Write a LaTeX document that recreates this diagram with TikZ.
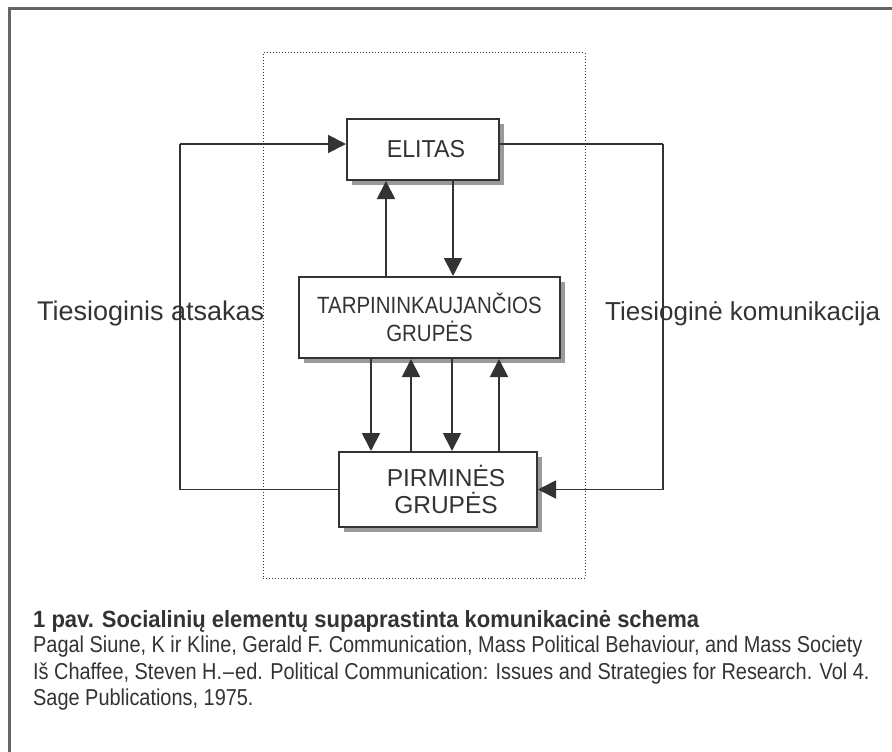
\documentclass[tikz,border=0pt]{standalone}
\usepackage{fontspec}
\setmainfont{Liberation Sans}
\newfontfamily\elfont[FakeStretch=0.95]{Liberation Sans}
\newfontfamily\boxfont[FakeStretch=0.87]{Liberation Sans}
\newfontfamily\bodyfont[FakeStretch=0.866]{Liberation Sans}
\newfontfamily\capfont[FakeStretch=0.935]{Liberation Sans}
\usetikzlibrary{arrows.meta}
\definecolor{ink}{HTML}{333333}
\definecolor{frameg}{HTML}{666666}
\definecolor{shadowg}{HTML}{9A9A9A}
\tikzset{
  blk/.style={draw=ink, line width=2pt, fill=white, align=center, text=ink,
    font=\boxfont\fontsize{23.5}{27.5}\selectfont, inner sep=0pt},
  conn/.style={draw=ink, line width=1.8pt},
  arr/.style={conn, -{Triangle[length=18pt,width=18pt]}},
  lbl/.style={text=ink, anchor=base west, inner sep=0pt},
  bodytxt/.style={text=ink, font=\bodyfont\fontsize{23}{26}\selectfont, anchor=base west, inner sep=0pt},
  captxt/.style={text=ink, font=\capfont\bfseries\fontsize{23.5}{26}\selectfont, anchor=base west, inner sep=0pt},
}
\begin{document}
\begin{tikzpicture}[x=1pt,y=-1pt]
\useasboundingbox (0,0) rectangle (892,752);
% outer frame
\draw[frameg, line width=3pt] (9,800) -- (9,9) -- (950,9);
% dotted frame
\node[draw=ink, dotted, line width=1pt, minimum width=322pt, minimum height=525pt, inner sep=0pt] (dots) at (424,315.5) {};
% shadows
\fill[shadowg] (352,124) rectangle (504,185);
\fill[shadowg] (304,282) rectangle (565,363);
\fill[shadowg] (344,457) rectangle (542,532);
% boxes
\node[blk, font=\elfont\fontsize{24.5}{28}\selectfont, minimum width=152pt, minimum height=61pt] (elitas) at (423,149.5) {\hspace*{6pt}ELITAS};
\node[blk, minimum width=261pt, minimum height=81pt] (tarp) at (429.5,317.5) {TARPININKAUJANČIOS\\GRUPĖS};
\node[blk, font=\fontsize{24.5}{27.5}\selectfont, minimum width=198pt, minimum height=75pt] (pirm) at (438,489.5) {\hspace*{16pt}PIRMINĖS\\\hspace*{16pt}GRUPĖS};
% column coordinates
\coordinate (c1) at (386,0);
\coordinate (c2) at (453,0);
\coordinate (d1) at (371,0);
\coordinate (d2) at (411,0);
\coordinate (d3) at (452,0);
\coordinate (d4) at (499,0);
\coordinate (lx) at (180,144);
\coordinate (rx) at (663,144);
% elitas <-> tarp
\draw[arr] (tarp.north -| c1) -- (elitas.south -| c1);
\draw[arr] (elitas.south -| c2) -- (tarp.north -| c2);
% tarp <-> pirm
\draw[arr] (tarp.south -| d1) -- (pirm.north -| d1);
\draw[arr] (pirm.north -| d2) -- (tarp.south -| d2);
\draw[arr] (tarp.south -| d3) -- (pirm.north -| d3);
\draw[arr] (pirm.north -| d4) -- (tarp.south -| d4);
% loops
\draw[conn] (pirm.west) -| (lx);
\draw[arr] (lx) -- (elitas.west |- lx);
\draw[conn] (elitas.east |- rx) -- (rx);
\draw[arr] (rx) |- (pirm.east);
% labels
\node[lbl, font=\fontsize{27}{30}\selectfont] (lleft) at (37,320) {Tiesioginis atsakas};
\node[lbl, font=\fontsize{26}{30}\selectfont] (lright) at (605,320) {Tiesioginė komunikacija};
% caption
\node[captxt] (cap) at (33,627) {1 pav. Socialinių elementų supaprastinta komunikacinė schema};
\node[bodytxt] (b1) at (33,652) {Pagal Siune, K ir Kline, Gerald F. Communication, Mass Political Behaviour, and Mass Society};
\node[bodytxt] (b2) at (33,679) {Iš Chaffee, Steven H.\kern1pt–\kern1pt ed. Political Communication: Issues and Strategies for Research. Vol 4.};
\node[bodytxt] (b3) at (33,705) {Sage Publications, 1975.};
\end{tikzpicture}
\end{document}
